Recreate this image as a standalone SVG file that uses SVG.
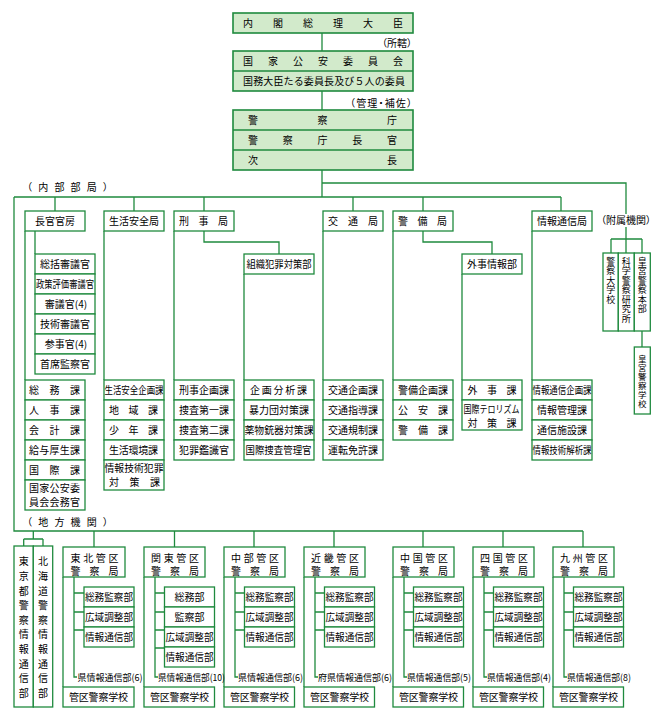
<svg xmlns="http://www.w3.org/2000/svg" width="668" height="720" viewBox="0 0 668 720">
<style>
.b{fill:#fff;stroke:#1f8a3e;stroke-width:1.3}
.t{fill:#d2eacb;stroke:#1f8a3e;stroke-width:1.6}
.c{fill:none;stroke:#1f8a3e;stroke-width:1.3}
text{font-family:"Noto Sans CJK JP","Noto Sans CJK SC",sans-serif;font-size:10px;fill:#000}
.m{text-anchor:middle}
.vt{writing-mode:vertical-rl;text-orientation:upright}
.v{font-size:9px;letter-spacing:0.5px}
.v2{font-size:8.5px;letter-spacing:0.4px}
.vb{font-size:10px;letter-spacing:4.6px}
.s{font-size:9.5px}
.p{font-feature-settings:"palt"}
</style>
<rect width="668" height="720" fill="#fff"/>
<g id="connectors">
<path class="c" d="M322 33V51M322 91V110M322 170V197M322 183H626V214M14 197H561M55 197V211M134 197V211M204 197V211M353 197V211M423 197V211M561 197V211M14 197V531H583"/>
<path class="c" d="M25 231V380M35 231V254M104 231V380M174 231V380M204 231V242H279V254M244 274V380M323 231V380M393 231V380M423 231V242H492V254M462 274V380M532 231V380"/>
<path class="c" d="M626 227V253M611 239H642M611 239V253M642 239V253M642 331V347"/>
<path class="c" d="M33.3 531V539M23.7 539H43M23.7 539V546M43 539V546"/>
<path class="c" d="M94 531V547M63 577V687M74 577V677H77M74 593H84M74 612H84M74 630H84"/>
<path class="c" d="M174.5 531V547M144 577V687M155 577V677H158M155 593H164.5M155 612H164.5M155 630H164.5M155 648H164.5"/>
<path class="c" d="M254 531V547M224 577V687M235 577V677H238M235 593H244.5M235 612H244.5M235 630H244.5"/>
<path class="c" d="M334 531V547M304 577V687M315 577V677H318M315 593H324.5M315 612H324.5M315 630H324.5"/>
<path class="c" d="M423 531V547M393 577V687M404 577V677H407M404 593H413.5M404 612H413.5M404 630H413.5"/>
<path class="c" d="M503 531V547M473 577V687M484 577V677H487M484 593H493.5M484 612H493.5M484 630H493.5"/>
<path class="c" d="M583 531V547M553 577V687M564 577V677H567M564 593H573.5M564 612H573.5M564 630H573.5"/>
</g>
<g id="pm"><rect class="t" x="233" y="13" width="180" height="20"/><text x="243" y="27" textLength="160" lengthAdjust="spacing">内閣総理大臣</text></g>
<text class="p" x="412" y="47" text-anchor="end">（所轄）</text>
<g id="npsc"><rect class="t" x="233" y="51" width="180" height="40"/><path class="c" d="M233 71H413"/>
<text x="243" y="65" textLength="160" lengthAdjust="spacing">国家公安委員会</text>
<text x="243" y="85" textLength="162" lengthAdjust="spacing">国務大臣たる委員長及び５人の委員</text></g>
<text class="p" x="350" y="107" textLength="62" lengthAdjust="spacing">（管理・補佐）</text>
<g id="npa"><rect class="t" x="233" y="110" width="180" height="60"/><path class="c" d="M233 130H413M233 150H413"/>
<text x="248" y="124" textLength="149" lengthAdjust="spacing">警察庁</text>
<text x="248" y="144" textLength="149" lengthAdjust="spacing">警察庁長官</text>
<text x="248" y="164" textLength="149" lengthAdjust="spacing">次長</text></g>
<text class="p" x="27" y="191" textLength="81" lengthAdjust="spacing">（内部部局）</text>
<text class="p" x="27" y="526" textLength="81" lengthAdjust="spacing">（地方機関）</text>
<text class="p" x="626" y="224" text-anchor="middle">（附属機関）</text>

<g id="chokan">
<rect class="b" x="25" y="211" width="60" height="20"/><text class="m" x="55" y="225">長官官房</text>
<rect class="b" x="35" y="254" width="60" height="20"/><text class="m" x="65" y="268">総括審議官</text>
<rect class="b" x="35" y="274" width="60" height="20"/><text x="36" y="288" textLength="58" lengthAdjust="spacingAndGlyphs">政策評価審議官</text>
<rect class="b" x="35" y="294" width="60" height="20"/><text class="m" x="66" y="308">審議官(4)</text>
<rect class="b" x="35" y="314" width="60" height="20"/><text class="m" x="65" y="328">技術審議官</text>
<rect class="b" x="35" y="334" width="60" height="20"/><text class="m" x="66" y="348">参事官(4)</text>
<rect class="b" x="35" y="354" width="60" height="20"/><text class="m" x="65" y="368">首席監察官</text>
<rect class="b" x="25" y="380" width="60" height="20"/><text x="29" y="394" textLength="51" lengthAdjust="spacing">総務課</text>
<rect class="b" x="25" y="400" width="60" height="20"/><text x="29" y="414" textLength="51" lengthAdjust="spacing">人事課</text>
<rect class="b" x="25" y="420" width="60" height="20"/><text x="29" y="434" textLength="51" lengthAdjust="spacing">会計課</text>
<rect class="b" x="25" y="440" width="60" height="20"/><text x="29" y="454" textLength="51" lengthAdjust="spacing">給与厚生課</text>
<rect class="b" x="25" y="460" width="60" height="20"/><text x="29" y="474" textLength="51" lengthAdjust="spacing">国際課</text>
<rect class="b" x="25" y="480" width="60" height="30"/><text x="29" y="492" textLength="51" lengthAdjust="spacing">国家公安委</text><text x="29" y="506" textLength="51" lengthAdjust="spacing">員会会務官</text>
</g>
<g id="seikatsu">
<rect class="b" x="104" y="211" width="60" height="20"/><text class="m" x="134" y="225">生活安全局</text>
<rect class="b" x="104" y="380" width="60" height="20"/><text x="104.5" y="394" textLength="59" lengthAdjust="spacingAndGlyphs">生活安全企画課</text>
<rect class="b" x="104" y="400" width="60" height="20"/><text x="109" y="414" textLength="49" lengthAdjust="spacing">地域課</text>
<rect class="b" x="104" y="420" width="60" height="20"/><text x="109" y="434" textLength="49" lengthAdjust="spacing">少年課</text>
<rect class="b" x="104" y="440" width="60" height="20"/><text x="109" y="454" textLength="49" lengthAdjust="spacing">生活環境課</text>
<rect class="b" x="104" y="460" width="60" height="30"/><text x="104.5" y="472" textLength="59" lengthAdjust="spacingAndGlyphs">情報技術犯罪</text><text x="109" y="486" textLength="51" lengthAdjust="spacing">対策課</text>
</g>
<g id="keiji">
<rect class="b" x="174" y="211" width="60" height="20"/><text x="179" y="225" textLength="49" lengthAdjust="spacing">刑事局</text>
<rect class="b" x="174" y="380" width="60" height="20"/><text class="m" x="204" y="394">刑事企画課</text>
<rect class="b" x="174" y="400" width="60" height="20"/><text class="m" x="204" y="414">捜査第一課</text>
<rect class="b" x="174" y="420" width="60" height="20"/><text class="m" x="204" y="434">捜査第二課</text>
<rect class="b" x="174" y="440" width="60" height="20"/><text class="m" x="204" y="454">犯罪鑑識官</text>
</g>
<g id="soshiki">
<rect class="b" x="244" y="254" width="70" height="20"/><text x="246.5" y="268" textLength="65" lengthAdjust="spacingAndGlyphs">組織犯罪対策部</text>
<rect class="b" x="244" y="380" width="70" height="20"/><text x="250" y="394" textLength="57" lengthAdjust="spacing">企画分析課</text>
<rect class="b" x="244" y="400" width="70" height="20"/><text class="m" x="279" y="414">暴力団対策課</text>
<rect class="b" x="244" y="420" width="70" height="20"/><text x="244.5" y="434" textLength="69" lengthAdjust="spacingAndGlyphs">薬物銃器対策課</text>
<rect class="b" x="244" y="440" width="70" height="20"/><text x="245.5" y="454" textLength="66" lengthAdjust="spacingAndGlyphs">国際捜査管理官</text>
</g>
<g id="kotsu">
<rect class="b" x="323" y="211" width="60" height="20"/><text x="328" y="225" textLength="50" lengthAdjust="spacing">交通局</text>
<rect class="b" x="323" y="380" width="60" height="20"/><text class="m" x="353" y="394">交通企画課</text>
<rect class="b" x="323" y="400" width="60" height="20"/><text class="m" x="353" y="414">交通指導課</text>
<rect class="b" x="323" y="420" width="60" height="20"/><text class="m" x="353" y="434">交通規制課</text>
<rect class="b" x="323" y="440" width="60" height="20"/><text class="m" x="353" y="454">運転免許課</text>
</g>
<g id="keibi">
<rect class="b" x="393" y="211" width="60" height="20"/><text x="398" y="225" textLength="49" lengthAdjust="spacing">警備局</text>
<rect class="b" x="393" y="380" width="60" height="20"/><text class="m" x="423" y="394">警備企画課</text>
<rect class="b" x="393" y="400" width="60" height="20"/><text x="398" y="414" textLength="50" lengthAdjust="spacing">公安課</text>
<rect class="b" x="393" y="420" width="60" height="20"/><text x="398" y="434" textLength="50" lengthAdjust="spacing">警備課</text>
</g>
<g id="gaiji">
<rect class="b" x="462" y="254" width="60" height="20"/><text class="m" x="492" y="268">外事情報部</text>
<rect class="b" x="462" y="380" width="60" height="20"/><text x="467.5" y="394" textLength="49" lengthAdjust="spacing">外事課</text>
<rect class="b" x="462" y="400" width="60" height="30"/><text x="463.5" y="412.5" textLength="56" lengthAdjust="spacingAndGlyphs">国際テロリズム</text><text x="467.5" y="426.5" textLength="49" lengthAdjust="spacing">対策課</text>
</g>
<g id="joho">
<rect class="b" x="532" y="211" width="60" height="20"/><text class="m" x="562" y="225">情報通信局</text>
<rect class="b" x="532" y="380" width="60" height="20"/><text x="532.5" y="394" textLength="59" lengthAdjust="spacingAndGlyphs">情報通信企画課</text>
<rect class="b" x="532" y="400" width="60" height="20"/><text class="m" x="562" y="414">情報管理課</text>
<rect class="b" x="532" y="420" width="60" height="20"/><text class="m" x="562" y="434">通信施設課</text>
<rect class="b" x="532" y="440" width="60" height="20"/><text x="532.5" y="454" textLength="59" lengthAdjust="spacingAndGlyphs">情報技術解析課</text>
</g>
<g id="keisatsu-daigakko">
<rect class="b" x="603" y="253" width="15.3" height="78"/>
<text class="vt v" x="610.8" y="257">警察大学校</text>
</g>
<g id="kakeiken">
<rect class="b" x="618.3" y="253" width="16" height="78"/>
<text class="vt v" x="626.3" y="257">科学警察研究所</text>
</g>
<g id="kogu-honbu">
<rect class="b" x="634.3" y="253" width="16" height="78"/>
<text class="vt v" x="642.3" y="257">皇宮警察本部</text>
</g>
<g id="kogu-gakko">
<rect class="b" x="634.3" y="347" width="16" height="67"/>
<text class="vt v2" x="642.3" y="355">皇宮警察学校</text>
</g>
<g id="tokyo">
<rect class="b" x="14" y="546" width="19.3" height="161"/>
<text class="vt vb" x="23.7" y="556.7">東京都警察情報通信部</text>
</g>
<g id="hokkaido">
<rect class="b" x="33.3" y="546" width="19.4" height="161"/>
<text class="vt vb" x="43" y="556.7">北海道警察情報通信部</text>
</g>
<g id="tohoku">
<rect class="b" x="63" y="547" width="62" height="30"/>
<text x="70.5" y="561.5" textLength="48" lengthAdjust="spacing">東北管区</text><text x="70.5" y="575" textLength="48" lengthAdjust="spacing">警察局</text>
<rect class="b" x="84" y="587" width="50" height="20"/><text x="85" y="601" textLength="48" lengthAdjust="spacingAndGlyphs">総務監察部</text>
<rect class="b" x="84" y="607" width="50" height="20"/><text x="85" y="621" textLength="48" lengthAdjust="spacingAndGlyphs">広域調整部</text>
<rect class="b" x="84" y="627" width="50" height="20"/><text x="85" y="641" textLength="48" lengthAdjust="spacingAndGlyphs">情報通信部</text>
<text class="s" x="77.5" y="680.5" textLength="65" lengthAdjust="spacingAndGlyphs">県情報通信部(6)</text>
<rect class="b" x="63" y="687" width="71" height="20"/><text x="69" y="701" textLength="59" lengthAdjust="spacing">管区警察学校</text>
</g>
<g id="kanto">
<rect class="b" x="144" y="547" width="61" height="30"/>
<text x="151" y="561.5" textLength="48" lengthAdjust="spacing">関東管区</text><text x="151" y="575" textLength="48" lengthAdjust="spacing">警察局</text>
<rect class="b" x="164.5" y="587" width="50" height="20"/><text class="m" x="189.5" y="601">総務部</text>
<rect class="b" x="164.5" y="607" width="50" height="20"/><text class="m" x="189.5" y="621">監察部</text>
<rect class="b" x="164.5" y="627" width="50" height="20"/><text x="165.5" y="641" textLength="48" lengthAdjust="spacingAndGlyphs">広域調整部</text>
<rect class="b" x="164.5" y="647" width="50" height="20"/><text x="165.5" y="661" textLength="48" lengthAdjust="spacingAndGlyphs">情報通信部</text>
<text class="s" x="158" y="680.5" textLength="67" lengthAdjust="spacingAndGlyphs">県情報通信部(10)</text>
<rect class="b" x="144" y="687" width="70.5" height="20"/><text x="150" y="701" textLength="59" lengthAdjust="spacing">管区警察学校</text>
</g>
<g id="chubu">
<rect class="b" x="224" y="547" width="61" height="30"/>
<text x="231" y="561.5" textLength="48" lengthAdjust="spacing">中部管区</text><text x="231" y="575" textLength="48" lengthAdjust="spacing">警察局</text>
<rect class="b" x="244.5" y="587" width="50" height="20"/><text x="245.5" y="601" textLength="48" lengthAdjust="spacingAndGlyphs">総務監察部</text>
<rect class="b" x="244.5" y="607" width="50" height="20"/><text x="245.5" y="621" textLength="48" lengthAdjust="spacingAndGlyphs">広域調整部</text>
<rect class="b" x="244.5" y="627" width="50" height="20"/><text x="245.5" y="641" textLength="48" lengthAdjust="spacingAndGlyphs">情報通信部</text>
<text class="s" x="238" y="680.5" textLength="65" lengthAdjust="spacingAndGlyphs">県情報通信部(6)</text>
<rect class="b" x="224" y="687" width="70.5" height="20"/><text x="230" y="701" textLength="59" lengthAdjust="spacing">管区警察学校</text>
</g>
<g id="kinki">
<rect class="b" x="304" y="547" width="61" height="30"/>
<text x="311" y="561.5" textLength="48" lengthAdjust="spacing">近畿管区</text><text x="311" y="575" textLength="48" lengthAdjust="spacing">警察局</text>
<rect class="b" x="324.5" y="587" width="50" height="20"/><text x="325.5" y="601" textLength="48" lengthAdjust="spacingAndGlyphs">総務監察部</text>
<rect class="b" x="324.5" y="607" width="50" height="20"/><text x="325.5" y="621" textLength="48" lengthAdjust="spacingAndGlyphs">広域調整部</text>
<rect class="b" x="324.5" y="627" width="50" height="20"/><text x="325.5" y="641" textLength="48" lengthAdjust="spacingAndGlyphs">情報通信部</text>
<text class="s" x="318" y="680.5" textLength="74" lengthAdjust="spacingAndGlyphs">府県情報通信部(6)</text>
<rect class="b" x="304" y="687" width="70.5" height="20"/><text x="310" y="701" textLength="59" lengthAdjust="spacing">管区警察学校</text>
</g>
<g id="chugoku">
<rect class="b" x="393" y="547" width="61" height="30"/>
<text x="400" y="561.5" textLength="48" lengthAdjust="spacing">中国管区</text><text x="400" y="575" textLength="48" lengthAdjust="spacing">警察局</text>
<rect class="b" x="413.5" y="587" width="50" height="20"/><text x="414.5" y="601" textLength="48" lengthAdjust="spacingAndGlyphs">総務監察部</text>
<rect class="b" x="413.5" y="607" width="50" height="20"/><text x="414.5" y="621" textLength="48" lengthAdjust="spacingAndGlyphs">広域調整部</text>
<rect class="b" x="413.5" y="627" width="50" height="20"/><text x="414.5" y="641" textLength="48" lengthAdjust="spacingAndGlyphs">情報通信部</text>
<text class="s" x="407" y="680.5" textLength="64" lengthAdjust="spacingAndGlyphs">県情報通信部(5)</text>
<rect class="b" x="393" y="687" width="70.5" height="20"/><text x="399" y="701" textLength="59" lengthAdjust="spacing">管区警察学校</text>
</g>
<g id="shikoku">
<rect class="b" x="473" y="547" width="61" height="30"/>
<text x="480" y="561.5" textLength="48" lengthAdjust="spacing">四国管区</text><text x="480" y="575" textLength="48" lengthAdjust="spacing">警察局</text>
<rect class="b" x="493.5" y="587" width="50" height="20"/><text x="494.5" y="601" textLength="48" lengthAdjust="spacingAndGlyphs">総務監察部</text>
<rect class="b" x="493.5" y="607" width="50" height="20"/><text x="494.5" y="621" textLength="48" lengthAdjust="spacingAndGlyphs">広域調整部</text>
<rect class="b" x="493.5" y="627" width="50" height="20"/><text x="494.5" y="641" textLength="48" lengthAdjust="spacingAndGlyphs">情報通信部</text>
<text class="s" x="487" y="680.5" textLength="64" lengthAdjust="spacingAndGlyphs">県情報通信部(4)</text>
<rect class="b" x="473" y="687" width="70.5" height="20"/><text x="479" y="701" textLength="59" lengthAdjust="spacing">管区警察学校</text>
</g>
<g id="kyushu">
<rect class="b" x="553" y="547" width="61" height="30"/>
<text x="560" y="561.5" textLength="48" lengthAdjust="spacing">九州管区</text><text x="560" y="575" textLength="48" lengthAdjust="spacing">警察局</text>
<rect class="b" x="573.5" y="587" width="50" height="20"/><text x="574.5" y="601" textLength="48" lengthAdjust="spacingAndGlyphs">総務監察部</text>
<rect class="b" x="573.5" y="607" width="50" height="20"/><text x="574.5" y="621" textLength="48" lengthAdjust="spacingAndGlyphs">広域調整部</text>
<rect class="b" x="573.5" y="627" width="50" height="20"/><text x="574.5" y="641" textLength="48" lengthAdjust="spacingAndGlyphs">情報通信部</text>
<text class="s" x="567" y="680.5" textLength="64" lengthAdjust="spacingAndGlyphs">県情報通信部(8)</text>
<rect class="b" x="553" y="687" width="70.5" height="20"/><text x="559" y="701" textLength="59" lengthAdjust="spacing">管区警察学校</text>
</g>
</svg>
